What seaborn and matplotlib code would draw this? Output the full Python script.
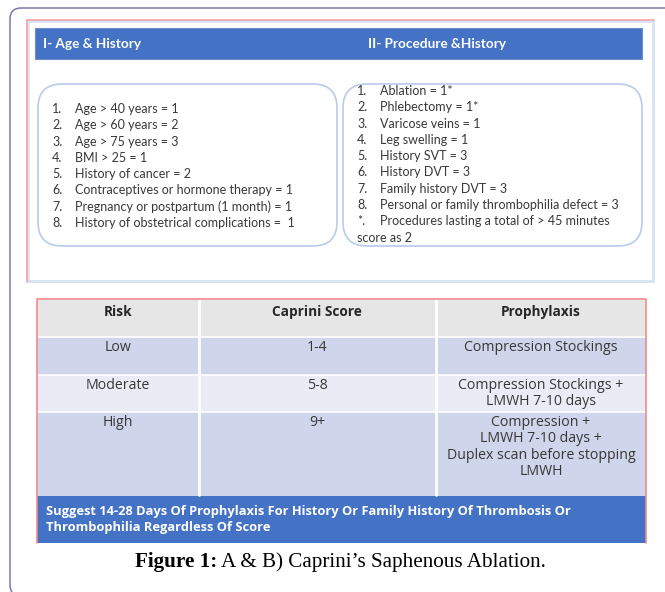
import numpy as np
import pandas as pd
import seaborn as sns
import matplotlib.pyplot as plt
from matplotlib.colors import ListedColormap
from matplotlib.patches import Rectangle, FancyBboxPatch

# panel A: scoring items
left_title = "I- Age & History"
right_title = "II- Procedure &History"
left_items = ["Age > 40 years = 1", "Age > 60 years = 2", "Age > 75 years = 3",
              "BMI > 25 = 1", "History of cancer = 2",
              "Contraceptives or hormone therapy = 1",
              "Pregnancy or postpartum (1 month) = 1",
              "History of obstetrical complications =  1"]
right_items = ["Ablation = 1*", "Phlebectomy = 1*", "Varicose veins = 1",
               "Leg swelling = 1", "History SVT = 3", "History DVT = 3",
               "Family history DVT = 3",
               "Personal or family thrombophilia defect = 3"]
right_note = ["Procedures lasting a total of > 45 minutes", "score as 2"]

# panel B: risk table
table_header = ["Risk", "Caprini Score", "Prophylaxis"]
risk = ["Low", "Moderate", "High"]
score = ["1-4", "5-8", "9+"]
prophylaxis = ["Compression Stockings",
               "Compression Stockings +\nLMWH 7-10 days",
               "Compression +\nLMWH 7-10 days +\nDuplex scan before stopping\nLMWH"]
footer = ["Suggest 14-28 Days Of Prophylaxis For History Or Family History Of Thrombosis Or",
          "Thrombophilia Regardless Of Score"]
caption_bold = "Figure 1:"
caption_rest = "A & B) Caprini\u2019s Saphenous Ablation."

# row shading of the table: 0 header, 1 dark band, 2 light band, 3 footer
row_kind = [0, 1, 2, 1, 3]
row_units = [4, 4, 4, 9, 5]

BLUE = "#4472C4"
TXT = "#383838"
W, H = 665, 592

sns.set_theme(style="white")
plt.rcParams['font.family'] = ['Lato', 'DejaVu Sans']

fig = plt.figure(figsize=(W / 100, H / 100), dpi=100)
bg = fig.add_axes([0, 0, 1, 1])
bg.set_xlim(0, W)
bg.set_ylim(H, 0)
bg.axis("off")

# outer frame
bg.add_patch(FancyBboxPatch((10, 8), 720, 588, boxstyle="round,pad=0,rounding_size=11",
                            fc="white", ec="#7F77AE", lw=1.1))
# top panel
bg.add_patch(Rectangle((28, 21), 625, 260, fc="white", ec="#D6E4F5", lw=2))
bg.plot([27, 654], [20, 20], color="#F4A3A3", lw=1.2)
bg.plot([27, 27], [20, 282], color="#F4A3A3", lw=1.2)
bg.add_patch(Rectangle((35, 28), 607, 31, fc=BLUE, ec="#6A8CD0", lw=0.8))

for x0 in (38, 343):
    bg.add_patch(FancyBboxPatch((x0, 84), 299, 162, boxstyle="round,pad=0,rounding_size=24",
                                fc="white", ec="#B9CBEA", lw=1.2))

# table cells via heatmap
rows = np.repeat(row_kind, row_units)
cells = pd.DataFrame({"shade": rows})
tab_top, tab_bot, tab_l, tab_r = 300, 543, 37, 646
tax = fig.add_axes([tab_l / W, 1 - tab_bot / H, (tab_r - tab_l) / W, (tab_bot - tab_top) / H])
cmap = ListedColormap(["#E6E6E6", "#CFD5EA", "#E9EBF5", BLUE])
sns.heatmap(cells, ax=tax, cmap=cmap, vmin=-0.5, vmax=3.5, cbar=False,
            xticklabels=False, yticklabels=False)

# overlay for text and rules
ov = fig.add_axes([0, 0, 1, 1])
ov.set_xlim(0, W)
ov.set_ylim(H, 0)
ov.axis("off")
ov.patch.set_alpha(0)

unit = (tab_bot - tab_top) / sum(row_units)
edges = tab_top + np.cumsum([0] + row_units) * unit
for y in edges[1:4]:
    ov.plot([tab_l, tab_r], [y, y], color="white", lw=1.2)
for x in (199, 436):
    ov.plot([x, x], [tab_top, edges[4] - 1], color="white", lw=2)
ov.plot([tab_l, tab_l, tab_r, tab_r], [tab_bot, tab_top - 1, tab_top - 1, tab_bot],
        color="#F08A8A", lw=1.2)

ov.text(43, 44, left_title, color="white", fontsize=9.8, fontweight="bold", va="center")
ov.text(368, 44, right_title, color="white", fontsize=9.8, fontweight="bold", va="center")

step = 16.3
fs = 9
for i, item in enumerate(left_items):
    y = 109 + i * step
    ov.text(52, y, f"{i + 1}.", color=TXT, fontsize=fs, va="center")
    ov.text(75, y, item, color=TXT, fontsize=fs, va="center")
for i, item in enumerate(right_items):
    y = 91 + i * step
    ov.text(357, y, f"{i + 1}.", color=TXT, fontsize=fs, va="center")
    ov.text(380, y, item, color=TXT, fontsize=fs, va="center")
yn = 91 + len(right_items) * step
ov.text(357, yn, "*.", color=TXT, fontsize=fs, va="center")
ov.text(380, yn, right_note[0], color=TXT, fontsize=fs, va="center")
ov.text(357, yn + step, right_note[1], color=TXT, fontsize=fs, va="center")

col_x = [118, 317, 541]
tfont = ['Open Sans', 'DejaVu Sans']
for x, lab in zip(col_x, table_header):
    ov.text(x, edges[0] + 12, lab, color="#262626", fontsize=9.8, fontweight="bold",
            ha="center", va="center", family=tfont)
for r in range(3):
    ytop = edges[r + 1] + 3
    for x, lab in zip(col_x, (risk[r], score[r], prophylaxis[r])):
        ov.text(x, ytop, lab, color=TXT, fontsize=10.2, ha="center", va="top",
                linespacing=1.12, family=tfont)

ov.text(46, 512, footer[0], color="white", fontsize=9.3, fontweight="bold",
        va="center", family=tfont)
ov.text(46, 528, footer[1], color="white", fontsize=9.3, fontweight="bold",
        va="center", family=tfont)

ov.text(217, 562, caption_bold, fontsize=15.2, fontweight="bold", ha="right", va="center",
        family="Liberation Serif", color="black")
ov.text(221, 562, caption_rest, fontsize=15.2, ha="left", va="center",
        family="Liberation Serif", color="black")

fig.savefig("out.png", dpi=100)
